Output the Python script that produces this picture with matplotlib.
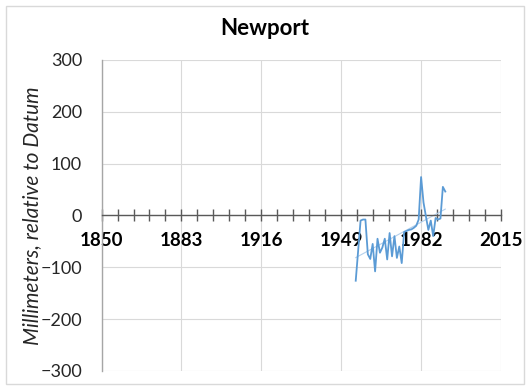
import numpy as np
import matplotlib
matplotlib.use("Agg")
import matplotlib.pyplot as plt
from matplotlib.ticker import MultipleLocator, FixedLocator
from matplotlib.patches import Rectangle

plt.rcParams['font.family'] = ['Lato', 'DejaVu Sans']

# annual mean sea level, mm relative to datum
years = [1955, 1957, 1958, 1959, 1960, 1961, 1962, 1963, 1964, 1965,
         1966, 1967, 1968, 1969, 1970, 1971, 1972, 1973, 1974, 1975,
         1976, 1977, 1978, 1979, 1980, 1981, 1982, 1983, 1984, 1985,
         1986, 1987, 1988, 1989, 1990, 1991, 1992]
levels = [-126, -10, -8, -8, -75, -84, -55, -108, -45, -72,
          -62, -45, -85, -34, -79, -40, -82, -60, -92, -32,
          -30, -28, -27, -24, -20, -8, 74, 25, -2, -28,
          -10, -40, -5, -8, -6, 55, 46]

x_major = [1850, 1883, 1916, 1949, 1982, 2015]
title = "Newport"
ylabel = "Millimeters, relative to Datum"

fig = plt.figure(figsize=(5.29, 3.86), dpi=100)
fig.patches.append(Rectangle((0.012, 0.005), 0.978, 0.98, transform=fig.transFigure,
                             fill=False, edgecolor='#d9d9d9', linewidth=1))

ax = fig.add_axes([0.192, 0.039, 0.755, 0.806])
ax.set_xlim(1850, 2015)
ax.set_ylim(-300, 300)

# linear trend line
coef = np.polyfit(years, levels, 1)
tx = np.array([years[0], years[-1]])
ax.plot(tx, np.polyval(coef, tx), color='#b4d0ec', linewidth=0.8, zorder=2)

ax.plot(years, levels, color='#5b9bd5', linewidth=1.3, zorder=3)

ax.xaxis.set_major_locator(FixedLocator(x_major))
ax.xaxis.set_minor_locator(FixedLocator(np.linspace(1850, 2015, 26)))
ax.yaxis.set_major_locator(MultipleLocator(100))
ax.grid(True, which='major', color='#d9d9d9', linewidth=0.8)
ax.set_axisbelow(True)

for s in ['top', 'right']:
    ax.spines[s].set_visible(False)
ax.spines['bottom'].set_position(('data', 0))
ax.spines['bottom'].set_color('#595959')
ax.spines['bottom'].set_linewidth(1.0)
ax.spines['left'].set_color('#a6a6a6')
ax.spines['left'].set_linewidth(1.0)

ax.tick_params(axis='x', which='both', direction='inout', length=8, width=1,
               color='#595959', pad=8)
ax.tick_params(axis='x', which='major', labelsize=13.5, labelcolor='#000000')
ax.tick_params(axis='y', length=0, pad=14, labelsize=13, labelcolor='#262626')
for lab in ax.get_xticklabels():
    lab.set_fontweight('bold')

fig.text(0.50, 0.925, title, ha='center', va='center', fontsize=16, fontweight='bold')
fig.text(0.06, 0.44, ylabel, ha='center', va='center', rotation=90,
         fontsize=15, style='italic', color='#262626')

fig.savefig('out.png', dpi=100)
